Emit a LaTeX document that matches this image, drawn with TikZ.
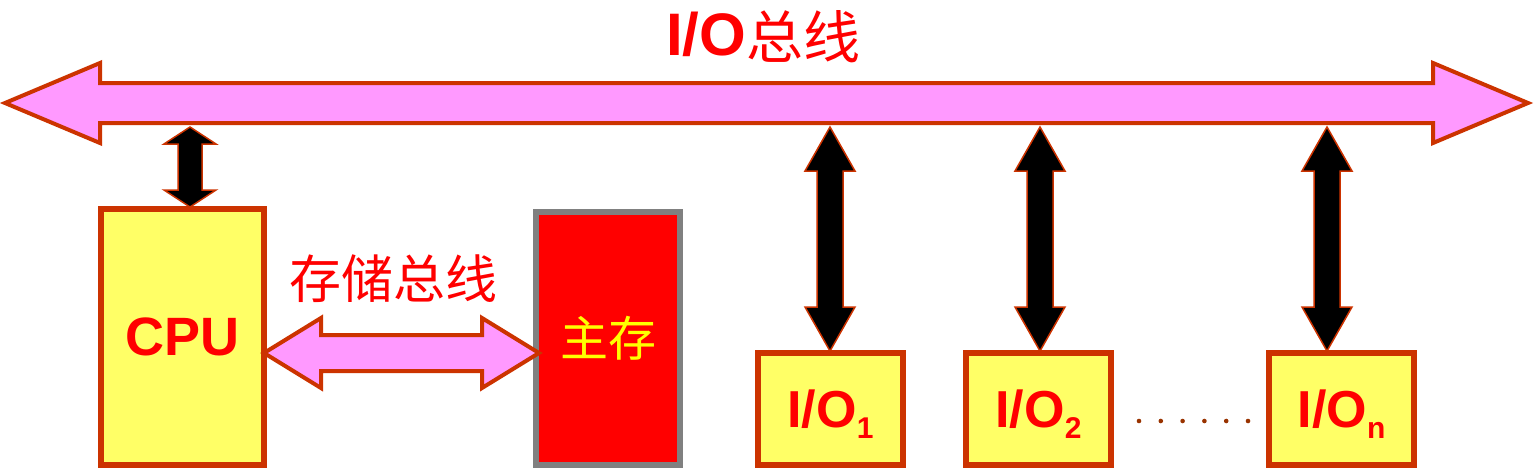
\documentclass[tikz,border=0pt]{standalone}
\usepackage{fontspec}
\setmainfont{Liberation Sans}
\newfontfamily\cjk{Noto Sans CJK SC}
\usetikzlibrary{calc}
\definecolor{busfill}{HTML}{FF99FF}
\definecolor{edgecol}{HTML}{CC3300}
\definecolor{boxy}{HTML}{FFFF66}
\definecolor{memgray}{HTML}{808080}
\definecolor{dotcol}{HTML}{993300}
% horizontal double arrow: style, left end, right end, head length, head half-height, shaft half-height
\newcommand\mydblH[6]{\draw[#1] let \p1=(#2), \p2=(#3) in
  (\x1,\y1) -- (\x1+#4pt,\y1+#5pt) -- (\x1+#4pt,\y1+#6pt) -- (\x2-#4pt,\y1+#6pt)
  -- (\x2-#4pt,\y1+#5pt) -- (\x2,\y1) -- (\x2-#4pt,\y1-#5pt) -- (\x2-#4pt,\y1-#6pt)
  -- (\x1+#4pt,\y1-#6pt) -- (\x1+#4pt,\y1-#5pt) -- cycle;}
% vertical double arrow: style, top end, bottom end, head length, head half-width, shaft half-width
\newcommand\mydblV[6]{\draw[#1] let \p1=(#2), \p2=(#3) in
  (\x1,\y1) -- (\x1+#5pt,\y1-#4pt) -- (\x1+#6pt,\y1-#4pt) -- (\x1+#6pt,\y2+#4pt)
  -- (\x1+#5pt,\y2+#4pt) -- (\x1,\y2) -- (\x1-#5pt,\y2+#4pt) -- (\x1-#6pt,\y2+#4pt)
  -- (\x1-#6pt,\y1-#4pt) -- (\x1-#5pt,\y1-#4pt) -- cycle;}
\newcommand\iosub[1]{\raisebox{-11pt}[0pt][0pt]{\fontsize{30}{30}\selectfont #1}}
\tikzset{
  yellowbox/.style={draw=edgecol, line width=6pt, fill=boxy, inner sep=0pt, outer sep=0pt,
    text=red, font=\fontsize{54}{54}\selectfont\bfseries},
  iobox/.style={yellowbox, minimum width=145pt, minimum height=112pt,
    font=\fontsize{52}{52}\selectfont\bfseries},
  membox/.style={draw=memgray, line width=6pt, fill=red, inner sep=0pt, outer sep=0pt,
    text={rgb,255:red,255;green,255;blue,0}, font=\cjk\fontsize{48}{48}\selectfont},
  busarrow/.style={draw=edgecol, line width=4pt, fill=busfill, line join=miter},
  blackarrow/.style={draw=edgecol, line width=1.5pt, fill=black, line join=miter},
}
\begin{document}
\begin{tikzpicture}[x=1pt,y=-1pt]
\useasboundingbox (0,0) rectangle (1540,474);
% bus
\coordinate (busL) at (5,103);
\coordinate (busR) at (1528,103);
\coordinate (busbot) at (0,127);
\mydblH{busarrow}{busL}{busR}{95}{40}{20}
\node[anchor=base west, inner sep=0pt, text=red, font=\fontsize{60}{60}\selectfont\bfseries]
  (title) at (666,55) {I/O{\cjk\mdseries\fontsize{57}{57}\selectfont\raisebox{-3pt}{总线}}};
% boxes
\node[yellowbox, minimum width=163pt, minimum height=256pt] (cpu) at (182.5,337) {CPU};
\node[membox, minimum width=144pt, minimum height=253pt] (mem) at (608,338.5) {主存};
\node[iobox] (io1) at (830.5,409) {I/O\iosub{1}};
\node[iobox] (io2) at (1038.5,409) {I/O\iosub{2}};
\node[iobox] (ion) at (1341.5,409) {I/O\iosub{n}};
% dots
\foreach \i in {0,...,5} \fill[dotcol] (1139+\i*21.8,421) circle (2.3pt);
% memory bus
\node[text=red, font=\cjk\fontsize{52}{52}\selectfont, inner sep=0pt] (lbl) at (393,279) {存储总线};
\coordinate (mL) at ([yshift=-16pt]cpu.east);
\coordinate (mR) at ([yshift=-14.5pt,xshift=3pt]mem.west);
\mydblH{busarrow}{mL}{mR}{57}{35}{18}
% vertical arrows
\coordinate (c0) at ([xshift=7.5pt,yshift=2pt]cpu.north);
\coordinate (c1) at ([xshift=-0.5pt,yshift=2pt]io1.north);
\coordinate (c2) at ([xshift=1.5pt,yshift=2pt]io2.north);
\coordinate (c3) at ([xshift=-14.5pt,yshift=2pt]ion.north);
\mydblV{blackarrow}{c0 |- busbot}{c0}{17}{26}{12}
\mydblV{blackarrow}{c1 |- busbot}{c1}{44}{25}{13}
\mydblV{blackarrow}{c2 |- busbot}{c2}{44}{25}{13}
\mydblV{blackarrow}{c3 |- busbot}{c3}{44}{25}{13}
\end{tikzpicture}
\end{document}
